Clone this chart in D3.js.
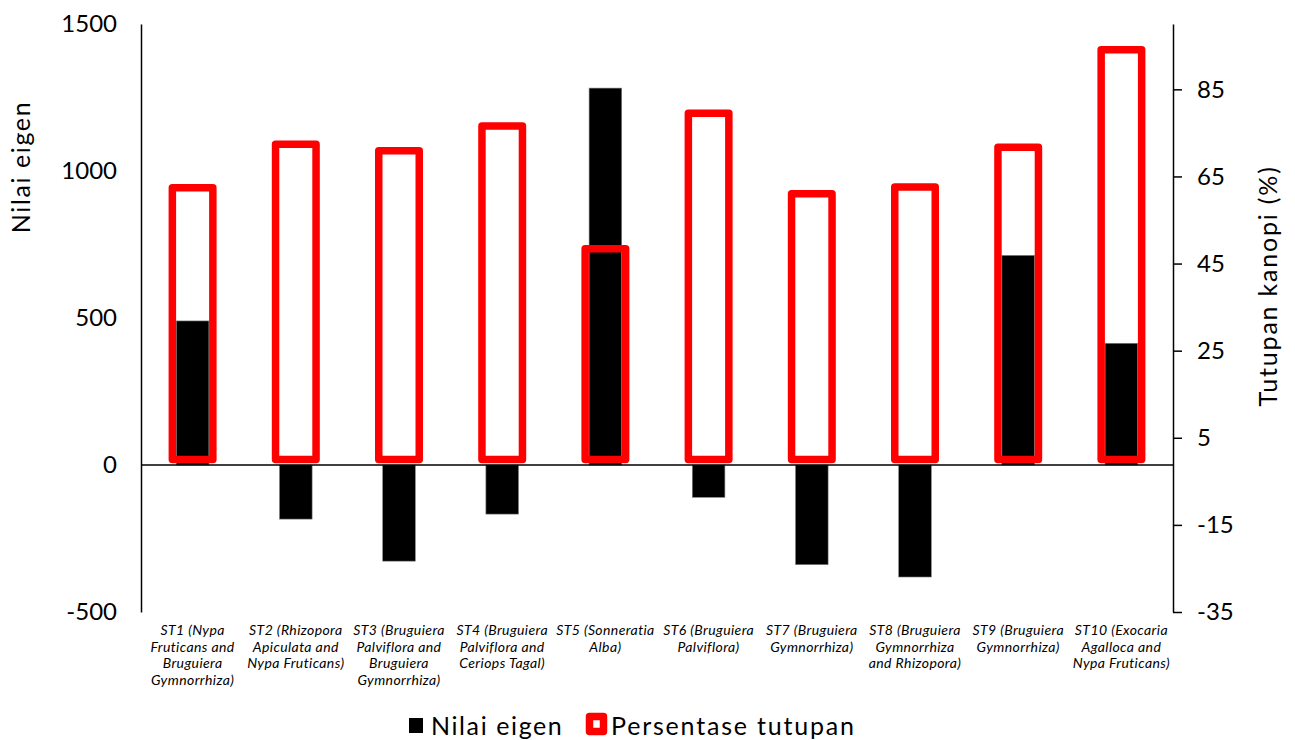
<!DOCTYPE html>
<html>
<head>
<meta charset="utf-8">
<script src="https://cdn.jsdelivr.net/npm/d3@7"></script>
<style>
  html, body { margin: 0; padding: 0; background: #fff; }
  svg { display: block; }
  text { font-family: Lato, "DejaVu Sans", sans-serif; fill: #000; }
</style>
</head>
<body>
<svg id="chart" width="1295" height="740"></svg>
<script>
// Station codes, wrapped label lines, and the two measured series
const stations = ["ST1", "ST2", "ST3", "ST4", "ST5", "ST6", "ST7", "ST8", "ST9", "ST10"];
const stationLabels = [
  ["ST1 (Nypa", "Fruticans and", "Bruguiera", "Gymnorrhiza)"],
  ["ST2 (Rhizopora", "Apiculata and", "Nypa Fruticans)"],
  ["ST3 (Bruguiera", "Palviflora and", "Bruguiera", "Gymnorrhiza)"],
  ["ST4 (Bruguiera", "Palviflora and", "Ceriops Tagal)"],
  ["ST5 (Sonneratia", "Alba)"],
  ["ST6 (Bruguiera", "Palviflora)"],
  ["ST7 (Bruguiera", "Gymnorrhiza)"],
  ["ST8 (Bruguiera", "Gymnorrhiza", "and Rhizopora)"],
  ["ST9 (Bruguiera", "Gymnorrhiza)"],
  ["ST10 (Exocaria", "Agalloca and", "Nypa Fruticans)"]
];
const eigenValues = [490, -184, -327, -167, 1282, -110, -339, -381, 713, 414];
const canopyCover = [62.4, 72.4, 70.9, 76.6, 48.4, 79.5, 61.0, 62.6, 71.7, 94.1];

const leftTicks = [-500, 0, 500, 1000, 1500];
const rightTicks = [-35, -15, 5, 25, 45, 65, 85];

const svg = d3.select("#chart");
const plot = { left: 141, right: 1173, top: 24, bottom: 612 };

const x = d3.scaleBand().domain(stations).range([plot.left, plot.right]);
const yL = d3.scaleLinear().domain([-500, 1500]).range([plot.bottom, plot.top]);
const yR = d3.scaleLinear().domain([-35, 100]).range([plot.bottom, plot.top]);

const eigenWidth = 32.6;
const coverWidth = 40.5;
const plainNumber = (d) => String(d);

// Eigenvalue bars (left axis)
svg.append("g").selectAll("rect")
  .data(stations)
  .join("rect")
  .attr("x", (d) => x(d) + x.bandwidth() / 2 - eigenWidth / 2)
  .attr("width", eigenWidth)
  .attr("y", (d, i) => Math.min(yL(eigenValues[i]), yL(0)))
  .attr("height", (d, i) => Math.abs(yL(eigenValues[i]) - yL(0)))
  .attr("fill", "#000")
  .attr("stroke", "#7f7f7f")
  .attr("stroke-width", 0.6);

// Canopy cover outlines (right axis)
svg.append("g").selectAll("rect")
  .data(stations)
  .join("rect")
  .attr("x", (d) => x(d) + x.bandwidth() / 2 - coverWidth / 2)
  .attr("width", coverWidth)
  .attr("y", (d, i) => yR(canopyCover[i]))
  .attr("height", (d, i) => yR(0) - yR(canopyCover[i]))
  .attr("fill", "none")
  .attr("stroke", "#ff0000")
  .attr("stroke-width", 7.5)
  .attr("stroke-linejoin", "round");

// Zero baseline
svg.append("line")
  .attr("x1", plot.left).attr("x2", plot.right)
  .attr("y1", yL(0)).attr("y2", yL(0))
  .attr("stroke", "#000").attr("stroke-width", 1.5);

// Left axis
const gL = svg.append("g")
  .attr("transform", `translate(${plot.left},0)`)
  .call(d3.axisLeft(yL).tickValues(leftTicks).tickSize(0).tickPadding(24).tickFormat(plainNumber));
gL.select(".domain").attr("stroke", "#000").attr("stroke-width", 1.5);
gL.selectAll("text").style("font-family", "Lato, 'DejaVu Sans', sans-serif").style("font-size", "24px").attr("fill", "#000");

// Right axis
const gR = svg.append("g")
  .attr("transform", `translate(${plot.right},0)`)
  .call(d3.axisRight(yR).tickValues(rightTicks).tickSize(9).tickSizeOuter(0).tickPadding(15).tickFormat(plainNumber));
gR.select(".domain").attr("stroke", "#000").attr("stroke-width", 1.5);
gR.selectAll(".tick line").attr("stroke", "#000").attr("stroke-width", 1.5);
gR.selectAll("text").style("font-family", "Lato, 'DejaVu Sans', sans-serif").style("font-size", "24px").attr("fill", "#000");

// Station labels under the plot
const labelGroup = svg.append("g");
stations.forEach((s, i) => {
  const cx = x(s) + x.bandwidth() / 2;
  const t = labelGroup.append("text")
    .attr("x", cx)
    .attr("y", 635)
    .attr("text-anchor", "middle")
    .style("font-size", "14px")
    .style("letter-spacing", "0.4px")
    .style("font-style", "italic");
  stationLabels[i].forEach((line, j) => {
    t.append("tspan")
      .attr("x", cx)
      .attr("dy", j === 0 ? 0 : 16.5)
      .text(line);
  });
});

// Axis titles
svg.append("text")
  .attr("transform", "translate(30,167) rotate(-90)")
  .attr("text-anchor", "middle")
  .style("font-size", "25px")
  .style("letter-spacing", "1.6px")
  .text("Nilai eigen");

svg.append("text")
  .attr("transform", "translate(1277,286) rotate(-90)")
  .attr("text-anchor", "middle")
  .style("font-size", "25px")
  .style("letter-spacing", "1.8px")
  .text("Tutupan kanopi (%)");

// Legend
const legend = svg.append("g");
legend.append("rect")
  .attr("x", 409).attr("y", 718).attr("width", 14).attr("height", 15)
  .attr("fill", "#000");
legend.append("text")
  .attr("x", 431).attr("y", 735)
  .style("font-size", "25px")
  .style("letter-spacing", "1.6px")
  .text("Nilai eigen");
legend.append("rect")
  .attr("x", 589.5).attr("y", 716.5).attr("width", 14).attr("height", 15)
  .attr("fill", "#fff").attr("stroke", "#ff0000").attr("stroke-width", 7.5)
  .attr("stroke-linejoin", "round");
legend.append("text")
  .attr("x", 611).attr("y", 735)
  .style("font-size", "25px")
  .style("letter-spacing", "1.8px")
  .text("Persentase tutupan");
</script>
</body>
</html>
